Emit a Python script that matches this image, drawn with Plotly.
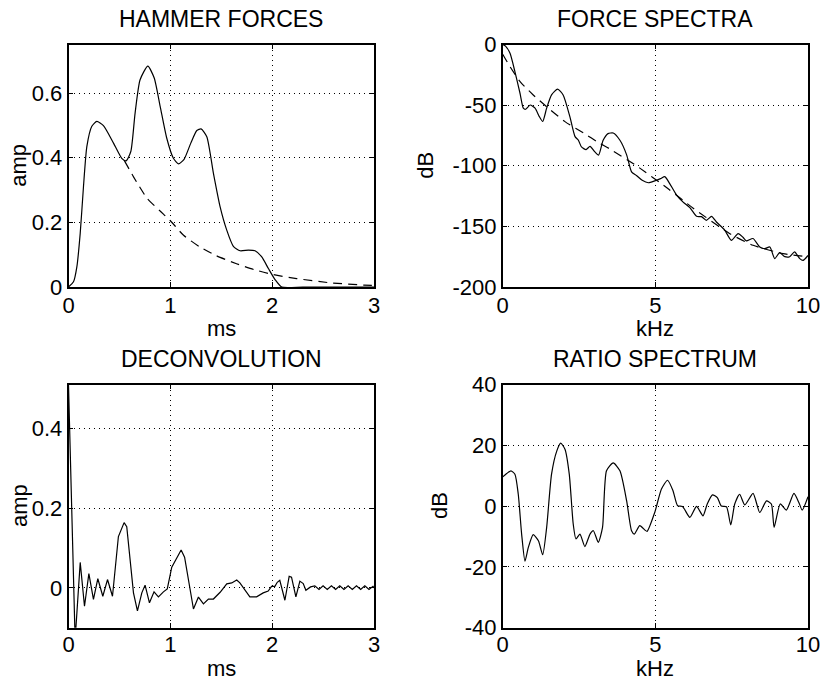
import plotly.graph_objects as go

# ---------------- data ----------------
# Panel 1: HAMMER FORCES (ms, amp)
t_force = [0, 0.049, 0.082, 0.115, 0.147, 0.180, 0.229, 0.278, 0.343, 0.442, 0.523, 0.566, 0.612,
           0.654, 0.703, 0.779, 0.841, 0.900, 0.965, 1.030, 1.080, 1.135, 1.201, 1.260, 1.302,
           1.358, 1.423, 1.489, 1.554, 1.619, 1.685, 1.767, 1.832, 1.898, 1.963, 2.028, 2.094,
           2.3, 2.6, 3.0]
f_force = [0, 0.016, 0.062, 0.166, 0.310, 0.434, 0.497, 0.512, 0.499, 0.445, 0.398, 0.390, 0.419,
           0.538, 0.641, 0.683, 0.647, 0.559, 0.460, 0.398, 0.381, 0.395, 0.445, 0.484, 0.489,
           0.465, 0.352, 0.248, 0.176, 0.126, 0.112, 0.114, 0.112, 0.093, 0.057, 0.023, 0.0,
           0, 0, 0]
t_model = [0.55, 0.64, 0.77, 0.9, 1.0, 1.13, 1.29, 1.45, 1.65, 1.82, 2.0, 2.24, 2.57, 2.9, 3.0]
f_model = [0.39, 0.34, 0.275, 0.235, 0.205, 0.16, 0.124, 0.097, 0.072, 0.054, 0.039, 0.026,
           0.013, 0.006, 0.005]

# Panel 2: FORCE SPECTRA (kHz, dB)
k_spec = [0, 0.1, 0.24, 0.4, 0.567, 0.676, 0.75, 0.9, 1.06, 1.2, 1.31, 1.44, 1.6, 1.8, 1.98,
          2.2, 2.37, 2.48, 2.58, 2.73, 2.86, 3.02, 3.14, 3.29, 3.45, 3.62, 3.84, 4.06, 4.22,
          4.38, 4.57, 4.77, 4.98, 5.17, 5.31, 5.47, 5.69, 5.91, 6.13, 6.35, 6.51, 6.67, 6.84,
          7.0, 7.27, 7.49, 7.71, 7.87, 7.98, 8.2, 8.42, 8.58, 8.75, 8.91, 9.07, 9.24, 9.4,
          9.56, 9.73, 9.84, 10]
db_spec = [0, -1.5, -7.3, -22.4, -40.2, -52.5, -53.4, -49.9, -52.5, -59.5, -63.5, -52.5, -41.6,
           -36.8, -41.6, -59.5, -76, -79, -84.5, -86.7, -84, -88.6, -91.3, -79, -73.5, -73, -79,
           -91, -105, -108, -112, -114, -112.5, -110.6, -109, -114.7, -124, -130, -134.5,
           -141.7, -142, -145, -141.7, -146.4, -153, -161.5, -156, -159, -162, -160, -167,
           -168.4, -167, -176.6, -171.7, -175, -175, -171, -176.6, -178, -174]
k_model = [0, 0.24, 0.57, 1.0, 1.44, 2.04, 2.75, 3.08, 3.5, 4.38, 5.42, 6.24, 7.44, 8.2, 9.18, 10]
db_model = [-8, -18.3, -30.6, -41.6, -51.3, -63.6, -74.6, -80, -86, -100, -119, -135, -156,
            -165.6, -172.5, -175]

# Panel 3: DECONVOLUTION (ms, amp)
t_dec = [0, 0.065, 0.115, 0.157, 0.2, 0.245, 0.288, 0.337, 0.383, 0.432, 0.49, 0.546, 0.572,
         0.605, 0.638, 0.677, 0.72, 0.752, 0.795, 0.84, 0.883, 0.932, 0.97, 1.014, 1.063,
         1.106, 1.14, 1.178, 1.227, 1.276, 1.325, 1.374, 1.423, 1.489, 1.554, 1.603, 1.652,
         1.683, 1.732, 1.781, 1.847, 1.912, 1.961, 1.994, 2.027, 2.05, 2.075, 2.098, 2.125,
         2.167, 2.19, 2.233, 2.272, 2.305, 2.331, 2.377, 2.419, 2.46, 2.50, 2.541, 2.582,
         2.623, 2.664, 2.705, 2.746, 2.787, 2.828, 2.869, 2.91, 2.951, 2.99, 3.0]
a_dec = [0.51, -0.13, 0.064, -0.046, 0.036, -0.029, 0.023, -0.021, 0.021, -0.021, 0.129, 0.164,
         0.154, 0.079, -0.0125, -0.058, -0.0125, 0.007, -0.0375, -0.01, -0.0225, -0.01,
         -0.0025, 0.052, 0.073, 0.095, 0.077, 0.018, -0.053, -0.023, -0.04, -0.028, -0.028,
         -0.011, 0.01, 0.0125, 0.02, 0.0125, -0.004, -0.0225, -0.0225, -0.0125, -0.008, 0.004,
         0.004, 0.014, 0.019, -0.004, -0.031, 0.029, 0.027, -0.0225, 0.017, 0.011, -0.006,
         0.0025, 0.005, -0.004, 0.005, -0.004, 0.005, -0.004, 0.005, -0.004, 0.005, -0.004,
         0.005, -0.004, 0.005, -0.004, 0.004, 0.0]

# Panel 4: RATIO SPECTRUM (kHz, dB)
k_ratio = [0, 0.13, 0.27, 0.4, 0.51, 0.62, 0.73, 0.84, 1.0, 1.17, 1.31, 1.44, 1.6, 1.77, 1.9,
           2.04, 2.18, 2.31, 2.4, 2.53, 2.69, 2.86, 2.97, 3.13, 3.27, 3.4, 3.62, 3.84, 4.06,
           4.22, 4.31, 4.49, 4.66, 4.73, 4.98, 5.2, 5.4, 5.58, 5.73, 5.89, 6.13, 6.35, 6.56,
           6.7, 6.87, 7.03, 7.16, 7.33, 7.47, 7.6, 7.76, 7.93, 8.2, 8.42, 8.64, 8.8, 8.89,
           9.09, 9.29, 9.54, 9.7, 9.81, 10]
db_ratio = [9.6, 10.7, 11.6, 10.5, 3.9, -9.2, -18.1, -13.6, -9.4, -11.4, -16, -7, 10.5, 18.1,
            20.7, 18.7, 10.5, -5.9, -10.8, -9.2, -13.3, -9.2, -8.1, -11.9, -7, 11.6, 14.2,
            11.6, 1.7, -8.1, -9.2, -6.4, -7.9, -8.3, -2.1, 5.6, 8.5, 5, 0.1, -0.1, -3.7, -0.1,
            -3.2, 0.7, 3.7, 2.8, 0, -0.2, -6.2, 0.7, 3.9, 0.4, 4.2, -2.1, 1.7, 0.7, -7, 0.7,
            -1.3, 4.2, 1.2, -1.3, 3.1]

# tick labels
ms_ticks = [0, 1, 2, 3]
ms_text = ["0", "1", "2", "3"]
khz_ticks = [0, 5, 10]
khz_text = ["0", "5", "10"]
amp1_ticks = [0, 0.2, 0.4, 0.6]
amp1_text = ["0", "0.2", "0.4", "0.6"]
db1_ticks = [-200, -150, -100, -50, 0]
db1_text = ["-200", "-150", "-100", "-50", "0"]
amp2_ticks = [0, 0.2, 0.4]
amp2_text = ["0", "0.2", "0.4"]
db2_ticks = [-40, -20, 0, 20, 40]
db2_text = ["-40", "-20", "0", "20", "40"]

titles = ["HAMMER FORCES", "FORCE SPECTRA", "DECONVOLUTION", "RATIO SPECTRUM"]

# ---------------- figure ----------------
W, H = 820, 682
FONT = "Liberation Sans, Arial, Helvetica, sans-serif"
FS = 22
FS_TITLE = 23

fig = go.Figure()
solid = dict(color="black", width=1.2)
dashed = dict(color="black", width=1.2, dash="9px,6px")

fig.add_trace(go.Scatter(x=t_force, y=f_force, mode="lines", line=dict(**solid, shape="spline", smoothing=0.6),
                         xaxis="x", yaxis="y"))
fig.add_trace(go.Scatter(x=t_model, y=f_model, mode="lines", line=dict(**dashed, shape="spline", smoothing=0.6),
                         xaxis="x", yaxis="y"))
fig.add_trace(go.Scatter(x=k_spec, y=db_spec, mode="lines", line=dict(**solid, shape="spline", smoothing=0.6),
                         xaxis="x2", yaxis="y2"))
fig.add_trace(go.Scatter(x=k_model, y=db_model, mode="lines", line=dict(**dashed, shape="spline", smoothing=0.6),
                         xaxis="x2", yaxis="y2"))
fig.add_trace(go.Scatter(x=t_dec, y=a_dec, mode="lines", line=solid, xaxis="x3", yaxis="y3"))
fig.add_trace(go.Scatter(x=k_ratio, y=db_ratio, mode="lines", line=dict(**solid, shape="spline", smoothing=0.6),
                         xaxis="x4", yaxis="y4"))

def px_x(v):
    return v / W

def px_y(v):
    return 1 - v / H

xl = [px_x(68.5), px_x(374)]
xr = [px_x(502.7), px_x(808)]
yt = [px_y(287), px_y(44.5)]
yb = [px_y(627.7), px_y(384.5)]

base = dict(showline=True, linecolor="black", linewidth=1.5, mirror="ticks",
            ticks="inside", ticklen=5, tickcolor="black", tickwidth=1,
            showgrid=True, gridcolor="black", gridwidth=1, griddash="1px,4px",
            zeroline=False, tickfont=dict(family=FONT, size=FS, color="black"),
            tickmode="array", fixedrange=True, automargin=False,
            ticklabeloverflow="allow")
xbase_top = dict(base, ticklabelstandoff=-2)
xbase_bot = dict(base, ticklabelstandoff=-4)

fig.update_layout(
    template="none",
    width=W, height=H, margin=dict(l=0, r=0, t=0, b=0, pad=0), autosize=False,
    paper_bgcolor="white", plot_bgcolor="white", showlegend=False,
    xaxis=dict(xbase_top, domain=xl, range=[0, 3], tickvals=ms_ticks, ticktext=ms_text, anchor="y"),
    yaxis=dict(base, domain=yt, range=[0, 0.75], tickvals=amp1_ticks, ticktext=amp1_text, anchor="x"),
    xaxis2=dict(xbase_top, domain=xr, range=[0, 10], tickvals=khz_ticks, ticktext=khz_text, anchor="y2"),
    yaxis2=dict(base, domain=yt, range=[-200, 0], tickvals=db1_ticks, ticktext=db1_text, anchor="x2"),
    xaxis3=dict(xbase_bot, domain=xl, range=[0, 3], tickvals=ms_ticks, ticktext=ms_text, anchor="y3"),
    yaxis3=dict(base, domain=yb, range=[-0.1, 0.511], tickvals=amp2_ticks, ticktext=amp2_text, anchor="x3"),
    xaxis4=dict(xbase_bot, domain=xr, range=[0, 10], tickvals=khz_ticks, ticktext=khz_text, anchor="y4"),
    yaxis4=dict(base, domain=yb, range=[-40, 40], tickvals=db2_ticks, ticktext=db2_text, anchor="x4"),
)

tf = dict(family=FONT, size=FS, color="black")
ttf = dict(family=FONT, size=FS_TITLE, color="black")
ann = []
cxl = (68.5 + 374) / 2
cxr = (502.7 + 808) / 2
for txt, cx, cy in [(titles[0], cxl, 18.8), (titles[1], cxr, 18.8),
                    (titles[2], cxl, 359), (titles[3], cxr, 359)]:
    ann.append(dict(text=txt, x=px_x(cx), y=px_y(cy), xref="paper", yref="paper",
                    xanchor="center", yanchor="middle", showarrow=False, font=ttf))
for txt, cx, by in [("ms", cxl, 341.5), ("kHz", cxr, 341.5), ("ms", cxl, 682), ("kHz", cxr, 682)]:
    ann.append(dict(text=txt, x=px_x(cx), y=px_y(by), xref="paper", yref="paper",
                    xanchor="center", yanchor="bottom", showarrow=False, font=tf, borderpad=0))
for txt, cx, cy in [("amp", 19, 165.7), ("dB", 426, 165.7), ("amp", 19, 506.1), ("dB", 439, 506.1)]:
    ann.append(dict(text=txt, x=px_x(cx), y=px_y(cy), xref="paper", yref="paper",
                    xanchor="center", yanchor="middle", showarrow=False, font=tf, textangle=-90))
fig.update_layout(annotations=ann)

fig.write_html("out.html", config={"displayModeBar": False},
               post_script="document.body.style.margin='0';document.body.style.padding='0';"
                           "document.body.style.overflow='hidden';")
